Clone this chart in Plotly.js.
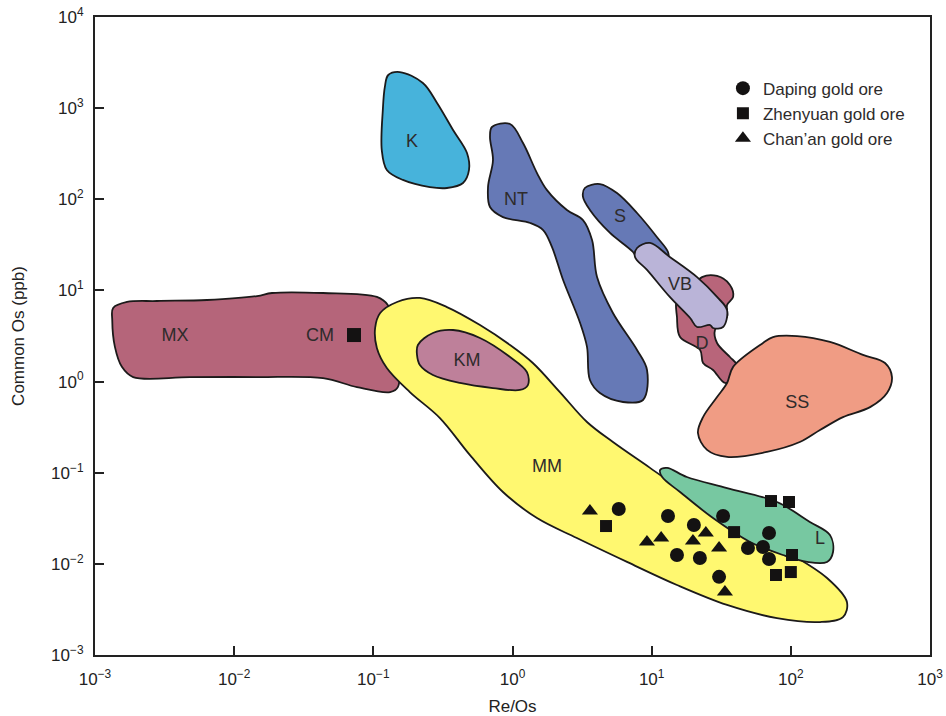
<!DOCTYPE html>
<html>
<head>
<meta charset="utf-8">
<script src="https://cdn.plot.ly/plotly-3.0.1.min.js"></script>
<style>
html,body{margin:0;padding:0;background:#fff;}
#chart{width:946px;height:716px;}
</style>
</head>
<body>
<div id="chart"></div>
<script>
// ---- Sample data (Re/Os, common Os in ppb) ----
var dapingRe = [5.8, 13.1, 20.1, 32.6, 69.7, 49.2, 63.1, 15.2, 22.2, 69.7, 30.5];
var dapingOs = [0.040, 0.0335, 0.0267, 0.0335, 0.0218, 0.0149, 0.0153, 0.0125, 0.0116, 0.0113, 0.0072];
var zhenyuanRe = [4.70, 72.0, 97.0, 39.1, 102, 78.2, 100];
var zhenyuanOs = [0.0260, 0.0489, 0.0477, 0.0223, 0.0125, 0.00755, 0.00813];
var chananRe = [3.60, 9.25, 11.7, 19.8, 24.5, 30.5, 33.6];
var chananOs = [0.0380, 0.0174, 0.0192, 0.0178, 0.0218, 0.0149, 0.00491];
var cmRe = [0.0726];
var cmOs = [3.24];

// ---- Field outlines (Re/Os, Os) ----
var mxRe = [0.00135,0.00170,0.00279,0.00638,0.0146,0.0187,0.0435,0.106,0.127,0.143,0.150,0.132,0.0763,0.0435,0.0146,0.00482,0.00188,0.00156,0.00139,0.00133];
var mxOs = [6.42,7.47,7.66,7.85,8.68,9.37,9.37,8.48,6.92,3.68,0.869,0.767,0.869,1.09,1.12,1.12,1.12,1.45,2.40,4.73];
var mmRe = [0.112,0.148,0.216,0.338,0.584,0.960,1.40,2.19,3.43,5.27,9.73,19.8,43.1,93.8,182,253,237,162,79.5,34.8,15.2,6.65,2.90,1.50,0.854,0.495,0.301,0.183,0.125,0.106,0.103];
var mmOs = [5.65,7.47,8.27,6.57,4.17,2.52,1.60,0.767,0.360,0.217,0.113,0.0528,0.0247,0.0135,0.00699,0.00381,0.00261,0.00230,0.00254,0.00354,0.00586,0.0105,0.0192,0.0318,0.0614,0.156,0.398,0.767,1.41,2.34,3.87];
var kmRe = [0.209,0.268,0.374,0.584,0.960,1.27,1.29,1.13,0.724,0.419,0.268,0.216,0.206];
var kmOs = [2.52,3.41,3.68,3.01,1.86,1.27,0.916,0.809,0.849,0.965,1.18,1.52,1.96];
var lRe = [11.5,12.9,17.9,34.8,79.5,137,191,201,182,131,87.6,50.9,27.6,16.0,11.9];
var lOs = [0.107,0.113,0.0897,0.0679,0.0477,0.0288,0.0207,0.0135,0.0105,0.0105,0.0125,0.0174,0.0318,0.0614,0.0897];
var kRe = [0.128,0.155,0.227,0.287,0.374,0.471,0.487,0.441,0.338,0.255,0.163,0.125,0.115,0.117,0.121];
var kOs = [2310,2490,1890,1140,576,322,210,151,133,136,163,210,347,955,1710];
var ntRe = [0.712,0.960,1.19,1.50,1.77,2.46,3.21,3.73,4.05,5.27,7.85,9.26,8.67,6.22,4.25,3.60,3.43,3.06,2.31,1.92,1.66,1.34,0.854,0.689,0.667,0.724,0.689];
var ntOs = [621,670,414,194,126,76.3,59.2,35.7,14.0,5.65,2.22,1.34,0.628,0.597,0.749,1.04,2.40,4.39,13.0,30.0,46.0,54.9,63.8,82.3,136,270,483];
var sRe = [3.31,4.25,5.63,7.85,10.9,13.1,13.1,8.24,7.34,5.02,3.60,3.21];
var sOs = [133,147,117,70.7,38.6,26.4,22.7,20.5,26.4,42.7,76.3,106];
var dRe = [23.0,29.5,36.5,38.5,34.8,34.8,28.5,29.5,36.5,41.0,39.7,33.7,27.6,23.4,22.3,16.0,15.2,15.2,18.9];
var dOs = [14.0,14.4,11.5,8.48,6.92,5.11,3.68,2.65,1.86,1.52,1.12,0.965,1.34,1.60,2.22,3.08,5.11,7.85,10.1];
var vbRe = [7.85,9.73,13.5,21.2,29.5,34.8,32.6,27.6,26.3,21.2,18.9,13.5,9.26,7.59];
var vbOs = [29.2,33.2,23.3,14.0,8.48,6.10,3.97,3.87,4.17,3.97,4.98,8.48,16.8,23.3];
var ssRe = [38.5,63.1,74.4,111,191,330,475,533,491,371,237,162,116,67.4,34.8,25.0,21.5,23.4,29.5,34.8];
var ssOs = [1.45,2.65,3.08,3.16,2.72,1.96,1.60,1.12,0.749,0.524,0.408,0.294,0.217,0.169,0.149,0.178,0.273,0.408,0.677,0.965];

// ---- Field labels ----
var fieldNames = ['MX','CM','MM','KM','L','K','NT','S','VB','D','SS'];
var fieldLabelRe = [0.00376,0.0414,1.77,0.471,162,0.190,1.06,5.93,16.0,23.0,111];
var fieldLabelOs = [3.16,3.16,0.113,1.64,0.0183,425,98,63.8,11.2,2.52,0.582];

// ---- Axis ticks ----
var tickVals = [0.001,0.01,0.1,1,10,100,1000];
var xTickText = ['10<sup>−3</sup>','10<sup>−2</sup>','10<sup>−1</sup>','10<sup>0</sup>','10<sup>1</sup>','10<sup>2</sup>','10<sup>3</sup>'];
var yTickVals = [0.001,0.01,0.1,1,10,100,1000,10000];
var yTickText = ['10<sup>−3</sup>','10<sup>−2</sup>','10<sup>−1</sup>','10<sup>0</sup>','10<sup>1</sup>','10<sup>2</sup>','10<sup>3</sup>','10<sup>4</sup>'];

var FONT = 'Liberation Sans, Arial, sans-serif';
var EDGE = '#1c1a1a';
function field(xs, ys, color) {
  return {
    x: xs.concat([xs[0]]), y: ys.concat([ys[0]]),
    type: 'scatter', mode: 'lines', fill: 'toself', fillcolor: color,
    line: {color: EDGE, width: 1.8, shape: 'spline', smoothing: 1},
    hoverinfo: 'skip', showlegend: false
  };
}

var traces = [
  field(mxRe, mxOs, '#B5657A'),
  field(mmRe, mmOs, '#FFF870'),
  field(kmRe, kmOs, '#BE809A'),
  field(lRe, lOs, '#77C8A1'),
  field(kRe, kOs, '#47B3DB'),
  field(ntRe, ntOs, '#6679B6'),
  field(sRe, sOs, '#6679B6'),
  field(dRe, dOs, '#B8657A'),
  field(vbRe, vbOs, '#BAB4D8'),
  field(ssRe, ssOs, '#F09C84'),
  {
    x: fieldLabelRe, y: fieldLabelOs, text: fieldNames,
    type: 'scatter', mode: 'text',
    textfont: {family: FONT, size: 18, color: '#2e2b2b'},
    hoverinfo: 'skip', showlegend: false
  },
  {
    x: cmRe, y: cmOs, type: 'scatter', mode: 'markers',
    marker: {symbol: 'square', size: 14, color: '#141212'},
    showlegend: false, hoverinfo: 'skip'
  },
  {
    name: 'Daping gold ore', x: dapingRe, y: dapingOs, type: 'scatter', mode: 'markers',
    marker: {symbol: 'circle', size: 14, color: '#141212'}
  },
  {
    name: 'Zhenyuan gold ore', x: zhenyuanRe, y: zhenyuanOs, type: 'scatter', mode: 'markers',
    marker: {symbol: 'square', size: 12, color: '#141212'}
  },
  {
    name: 'Chan’an gold ore', x: chananRe, y: chananOs, type: 'scatter', mode: 'markers',
    marker: {symbol: 'triangle-up', size: 14, color: '#141212'}
  }
];

var axisFont = {family: FONT, size: 17, color: '#222'};
var layout = {
  width: 946, height: 716,
  margin: {l: 95, r: 16, t: 17, b: 61},
  paper_bgcolor: '#fff', plot_bgcolor: '#fff',
  font: {family: FONT, color: '#222'},
  xaxis: {
    type: 'log', range: [-3, 3], tickvals: tickVals, ticktext: xTickText,
    ticks: 'inside', ticklen: 9, tickwidth: 2, tickcolor: '#222',
    showline: true, linewidth: 2, linecolor: '#222', mirror: true,
    showgrid: false, zeroline: false, tickfont: axisFont, ticklabelstandoff: 8,
    title: {text: 'Re/Os', font: {family: FONT, size: 17, color: '#222'}}
  },
  yaxis: {
    type: 'log', range: [-3, 4], tickvals: yTickVals, ticktext: yTickText,
    ticks: 'inside', ticklen: 9, tickwidth: 2, tickcolor: '#222',
    showline: true, linewidth: 2, linecolor: '#222', mirror: true,
    showgrid: false, zeroline: false, tickfont: axisFont, ticklabelstandoff: 6,
    title: {text: 'Common Os (ppb)', font: {family: FONT, size: 17, color: '#222'}, standoff: 22}
  },
  showlegend: true,
  legend: {
    x: 0.752, y: 0.916, xanchor: 'left', yanchor: 'top',
    bgcolor: 'rgba(0,0,0,0)', borderwidth: 0,
    font: {family: FONT, size: 17, color: '#2e2b2b'},
    tracegroupgap: 0, itemsizing: 'trace'
  }
};

Plotly.newPlot('chart', traces, layout, {displayModeBar: false, staticPlot: true});
</script>
</body>
</html>
